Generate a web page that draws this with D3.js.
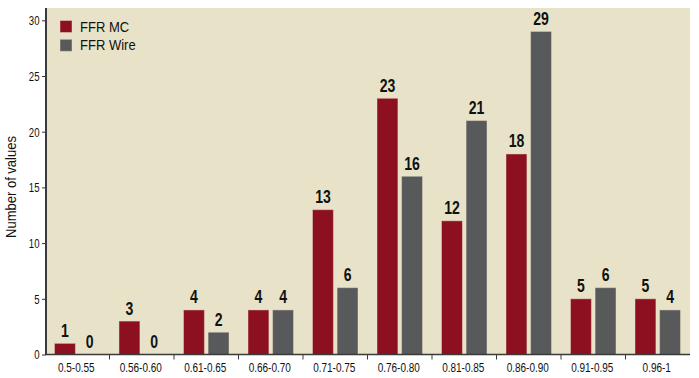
<!DOCTYPE html>
<html>
<head>
<meta charset="utf-8">
<script src="https://cdn.jsdelivr.net/npm/d3@7"></script>
<style>
  body { margin: 0; background: #fff; }
  svg { display: block; }
</style>
</head>
<body>
<div id="chart"></div>
<script>
const categories = ["0.5-0.55", "0.56-0.60", "0.61-0.65", "0.66-0.70", "0.71-0.75",
                    "0.76-0.80", "0.81-0.85", "0.86-0.90", "0.91-0.95", "0.96-1"];
const seriesNames = ["FFR MC", "FFR Wire"];
const ffrMC   = [1, 3, 4, 4, 13, 23, 12, 18, 5, 5];
const ffrWire = [0, 0, 2, 4, 6, 16, 21, 29, 6, 4];
const yTicks = [0, 5, 10, 15, 20, 25, 30];

const W = 699, H = 378;
const plotLeft = 45, plotRight = 690, plotTop = 8, plotBottom = 354.5;
const colors = ["#8c1020", "#58595b"];
const sans = "'Liberation Sans', Arial, sans-serif";
const squeeze = 0.8; // fake a condensed face, no narrow font installed

const svg = d3.select("#chart").append("svg")
    .attr("width", W)
    .attr("height", H);

// plot background
svg.append("rect")
    .attr("x", plotLeft).attr("y", plotTop)
    .attr("width", plotRight - plotLeft).attr("height", plotBottom - plotTop)
    .attr("fill", "#e8e3c8");

const x = d3.scaleBand().domain(categories).range([plotLeft, plotRight]);
const xSub = d3.scaleBand().domain(seriesNames).range([9.5, 55]).paddingInner(0.15);
const y = d3.scaleLinear().domain([0, 30]).range([plotBottom, 20.3]);

const rows = categories.map((c, i) => ({cat: c, values: [ffrMC[i], ffrWire[i]]}));

const groups = svg.append("g")
    .selectAll("g")
    .data(rows)
    .join("g")
    .attr("transform", d => `translate(${x(d.cat)},0)`);

// bars
groups.selectAll("rect")
    .data(d => d.values.map((v, j) => ({name: seriesNames[j], v, j})))
    .join("rect")
    .attr("x", d => xSub(d.name))
    .attr("y", d => y(d.v))
    .attr("width", xSub.bandwidth())
    .attr("height", d => y(0) - y(d.v))
    .attr("fill", d => colors[d.j])
    .attr("stroke", "#e8e3c8")
    .attr("stroke-opacity", 0.45)
    .attr("stroke-width", 1);

// value labels
groups.selectAll("text")
    .data(d => d.values.map((v, j) => ({name: seriesNames[j], v, j})))
    .join("text")
    .attr("transform", d => `translate(${xSub(d.name) + xSub.bandwidth() / 2},${y(d.v) - 6.5}) scale(${squeeze * 0.95},1)`)
    .attr("text-anchor", "middle")
    .style("font-family", sans)
    .style("font-weight", "bold")
    .style("font-size", "18.5px")
    .style("fill", "#111")
    .text(d => d.v);

// y axis
const yAxis = svg.append("g")
    .attr("transform", `translate(${plotLeft + 1},0)`)
    .call(d3.axisLeft(y).tickValues(yTicks).tickSize(4).tickPadding(0));
yAxis.select(".domain").remove();
yAxis.selectAll(".tick line").attr("stroke", "#333");
yAxis.selectAll(".tick text")
    .attr("x", null).attr("dy", null)
    .attr("transform", `translate(-6.5,4.3) scale(${squeeze},1)`)
    .style("font-family", sans)
    .style("font-size", "12px")
    .style("fill", "#111");
svg.append("line")
    .attr("x1", plotLeft + 1).attr("x2", plotLeft + 1)
    .attr("y1", plotTop).attr("y2", plotBottom + 0.5)
    .attr("stroke", "#3a3a3a").attr("stroke-width", 2);

// x axis
svg.append("line")
    .attr("x1", plotLeft).attr("x2", plotRight)
    .attr("y1", plotBottom).attr("y2", plotBottom)
    .attr("stroke", "#3a3a3a").attr("stroke-width", 1.5);
svg.append("g")
    .selectAll("line")
    .data(categories.slice(1))
    .join("line")
    .attr("x1", d => x(d)).attr("x2", d => x(d))
    .attr("y1", plotBottom).attr("y2", plotBottom + 5)
    .attr("stroke", "#3a3a3a").attr("stroke-width", 1);
svg.append("g")
    .selectAll("text")
    .data(categories)
    .join("text")
    .attr("transform", d => `translate(${x(d) + x.bandwidth() / 2 - 1},372) scale(${squeeze},1)`)
    .attr("text-anchor", "middle")
    .style("font-family", sans)
    .style("font-size", "12.5px")
    .style("fill", "#111")
    .text(d => d);

// y label
svg.append("text")
    .attr("transform", "translate(16,187) rotate(-90) scale(0.93,1)")
    .attr("text-anchor", "middle")
    .style("font-family", sans)
    .style("font-size", "14px")
    .style("fill", "#111")
    .text("Number of values");

// legend
const legend = svg.append("g")
    .selectAll("g")
    .data(seriesNames)
    .join("g")
    .attr("transform", (d, i) => `translate(60,${20.5 + i * 18.8})`);
legend.append("rect")
    .attr("width", 12).attr("height", 12)
    .attr("fill", (d, i) => colors[i])
    .attr("stroke", "#e8e3c8").attr("stroke-opacity", 0.45);
legend.append("text")
    .attr("transform", "translate(20,11) scale(0.93,1)")
    .style("font-family", sans)
    .style("font-size", "14px")
    .style("fill", "#111")
    .text(d => d);
</script>
</body>
</html>
